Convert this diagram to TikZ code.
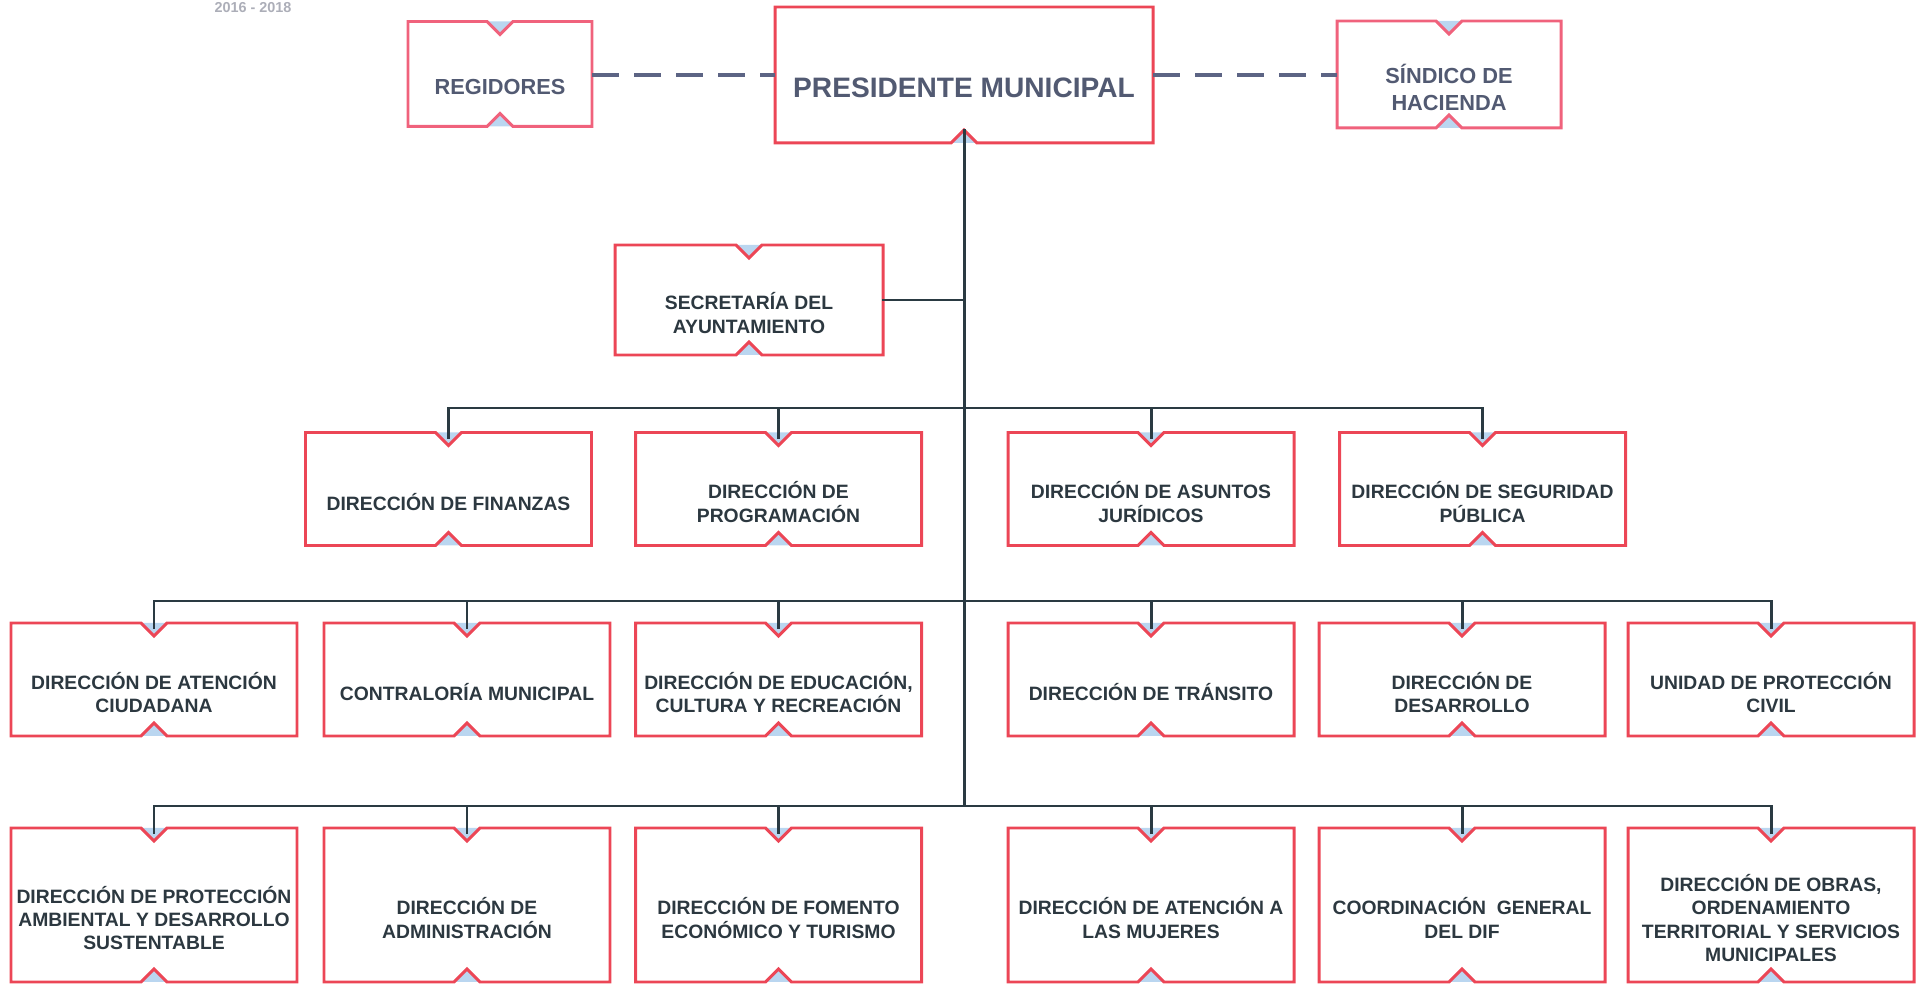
\documentclass[tikz,border=0pt]{standalone}
\usepackage{fontspec}
\setmainfont{Liberation Sans}
\usepackage{tikz}
\usetikzlibrary{positioning}
\definecolor{orgRed}{RGB}{236, 70, 86}
\definecolor{orgPink}{RGB}{240, 98, 124}
\definecolor{orgText}{RGB}{44, 56, 64}
\definecolor{orgSlate}{RGB}{82, 90, 114}
\definecolor{orgLine}{RGB}{42, 58, 66}
\definecolor{orgDash}{RGB}{92, 100, 132}
\definecolor{orgNotch}{RGB}{186, 214, 240}
\definecolor{orgYear}{RGB}{172, 174, 184}

% notched outline of a box: #1 node, #2 border colour
\newcommand{\notchbox}[2]{%
  \fill[orgNotch] ([xshift=-1.3mm]#1.north) -- ([yshift=-1.3mm]#1.north) -- ([xshift=1.3mm]#1.north) -- cycle;
  \fill[orgNotch] ([xshift=-1.3mm]#1.south) -- ([yshift=1.3mm]#1.south) -- ([xshift=1.3mm]#1.south) -- cycle;
  \draw[outline, draw=#2] (#1.north west) -- ([xshift=-1.3mm]#1.north) -- ([yshift=-1.3mm]#1.north)
    -- ([xshift=1.3mm]#1.north) -- (#1.north east) -- (#1.south east) -- ([xshift=1.3mm]#1.south)
    -- ([yshift=1.3mm]#1.south) -- ([xshift=-1.3mm]#1.south) -- (#1.south west) -- cycle;
}

\begin{document}
\begin{tikzpicture}[
    x=0.1mm, y=-0.1mm,
    box/.style={rectangle, outer sep=0pt, inner sep=0pt, minimum width=28.6mm, minimum height=11.3mm},
    tallbox/.style={box, minimum height=15.4mm},
    unittext/.style={align=center, yshift=-1.3mm, text=orgText, font=\fontsize{5.5}{6.6}\selectfont\bfseries},
    headtext/.style={unittext, text=orgSlate, font=\fontsize{6.2}{7.6}\selectfont\bfseries},
    outline/.style={line width=0.85pt, line join=miter},
    link/.style={draw=orgLine, line width=0.85pt, line cap=rect},
    dashlink/.style={draw=orgDash, line width=1pt, dash pattern=on 2.7mm off 1.5mm}
  ]
  \useasboundingbox (0,0) rectangle (1923,984);

  % --- HEAD ---
  \node[font=\fontsize{4.1}{5}\selectfont\bfseries, text=orgYear] (year) at (253,8) {2016 - 2018};
  \node[box, minimum width=37.8mm, minimum height=13.6mm,
        label={[headtext, font=\fontsize{8}{9}\selectfont\bfseries]center:PRESIDENTE MUNICIPAL}] (pres) at (964,75) {};
  \node[box, minimum width=18.4mm, minimum height=10.5mm,
        label={[headtext]center:REGIDORES}] (regid) at (500,74) {};
  \node[box, minimum width=22.4mm, minimum height=10.7mm,
        label={[headtext]center:{SÍNDICO DE\\HACIENDA}}] (sind) at (1449,74.5) {};
  \node[box, minimum width=26.8mm, minimum height=11mm,
        label={[unittext]center:{SECRETARÍA DEL\\AYUNTAMIENTO}}] (sec) at (749,300) {};

  % --- FIRST ROW ---
  \node[box, label={[unittext]center:DIRECCIÓN DE FINANZAS}] (fin) at (448.5,489) {};
  \node[box, label={[unittext]center:{DIRECCIÓN DE\\PROGRAMACIÓN}}] (prog) at (778.5,489) {};
  \node[box, label={[unittext]center:{DIRECCIÓN DE ASUNTOS\\JURÍDICOS}}] (jur) at (1151,489) {};
  \node[box, label={[unittext]center:{DIRECCIÓN DE SEGURIDAD\\PÚBLICA}}] (seg) at (1482.5,489) {};

  % --- SECOND ROW ---
  \node[box, label={[unittext]center:{DIRECCIÓN DE ATENCIÓN\\CIUDADANA}}] (atc) at (154,679.5) {};
  \node[box, label={[unittext]center:CONTRALORÍA MUNICIPAL}] (con) at (467,679.5) {};
  \node[box, label={[unittext]center:{DIRECCIÓN DE EDUCACIÓN,\\CULTURA Y RECREACIÓN}}] (edu) at (778.5,679.5) {};
  \node[box, label={[unittext]center:DIRECCIÓN DE TRÁNSITO}] (tra) at (1151,679.5) {};
  \node[box, label={[unittext]center:{DIRECCIÓN DE\\DESARROLLO}}] (des) at (1462,679.5) {};
  \node[box, label={[unittext]center:{UNIDAD DE PROTECCIÓN\\CIVIL}}] (civ) at (1771,679.5) {};

  % --- THIRD ROW ---
  \node[tallbox, below=9.2mm of atc, label={[unittext]center:{DIRECCIÓN DE PROTECCIÓN\\AMBIENTAL Y DESARROLLO\\SUSTENTABLE}}] (amb) {};
  \node[tallbox, below=9.2mm of con, label={[unittext]center:{DIRECCIÓN DE\\ADMINISTRACIÓN}}] (adm) {};
  \node[tallbox, below=9.2mm of edu, label={[unittext]center:{DIRECCIÓN DE FOMENTO\\ECONÓMICO Y TURISMO}}] (fom) {};
  \node[tallbox, below=9.2mm of tra, label={[unittext]center:{DIRECCIÓN DE ATENCIÓN A\\LAS MUJERES}}] (muj) {};
  \node[tallbox, below=9.2mm of des, label={[unittext]center:{COORDINACIÓN\ \ GENERAL\\DEL DIF}}] (dif) {};
  \node[tallbox, below=9.2mm of civ, label={[unittext]center:{DIRECCIÓN DE OBRAS,\\ORDENAMIENTO\\TERRITORIAL Y SERVICIOS\\MUNICIPALES}}] (obr) {};

  % Outlines
  \fill[orgNotch] ([xshift=-1.3mm]pres.south) -- ([yshift=1.3mm]pres.south) -- ([xshift=1.3mm]pres.south) -- cycle;
  \draw[outline, draw=orgRed] (pres.north west) -- (pres.north east) -- (pres.south east) -- ([xshift=1.3mm]pres.south)
    -- ([yshift=1.3mm]pres.south) -- ([xshift=-1.3mm]pres.south) -- (pres.south west) -- cycle;
  \foreach \n in {regid, sind} {\notchbox{\n}{orgPink}}
  \foreach \n in {sec, fin, prog, jur, seg, atc, con, edu, tra, des, civ, amb, adm, fom, muj, dif, obr} {\notchbox{\n}{orgRed}}

  % Links
  \coordinate (t1) at (964,408);
  \coordinate (t2) at (964,601);
  \coordinate (t3) at (964,806);
  \draw[dashlink] (regid.east |- pres.west) -- (pres.west);
  \draw[dashlink] (pres.east) -- (pres.east -| sind.west);
  \draw[link] ([yshift=1.2mm]pres.south) -- (t3);
  \draw[link] (sec.east) -- (sec.east -| t1);
  \draw[link] (fin.north |- t1) -- (seg.north |- t1);
  \draw[link] (atc.north |- t2) -- (civ.north |- t2);
  \draw[link] (amb.north |- t3) -- (obr.north |- t3);
  \foreach \n/\t in {fin/t1, prog/t1, jur/t1, seg/t1, atc/t2, con/t2, edu/t2, tra/t2, des/t2, civ/t2,
                     amb/t3, adm/t3, fom/t3, muj/t3, dif/t3, obr/t3}
    \draw[link] (\n.north |- \t) -- ([yshift=-0.5mm]\n.north);

\end{tikzpicture}
\end{document}
